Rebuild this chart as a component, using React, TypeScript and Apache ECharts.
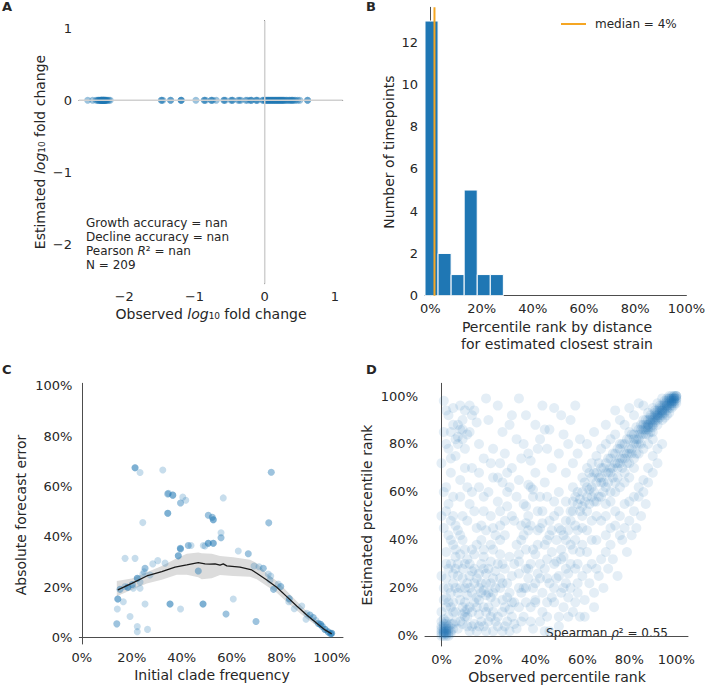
import React, { useEffect, useRef } from 'react';
import * as echarts from 'echarts';

const FONT = 'DejaVu Sans';
const TEXT = '#262626';
const AXIS = '#4d4d4d';
const BLUE = '#1f77b4';
const ORANGE = '#f5a623';

// ---------- Panel A ----------
const A_OBSERVED = [
  -2.52, -2.45, -2.40, -2.38, -2.37, -2.35, -2.34, -2.33, -2.33, -2.32, -2.31, -2.30, -2.30, -2.29, -2.28,
  -2.28, -2.27, -2.26, -2.25, -2.24, -2.22, -2.20, -2.36, -2.33, -2.31, -2.29, -2.27, -2.32, -2.30,
  -1.47, -1.47, -1.45, -1.34, -1.34, -1.19, -1.19, -1.19,
  -0.98, -0.86, -0.86, -0.84, -0.76, -0.76, -0.74, -0.69, -0.58, -0.58, -0.56, -0.48, -0.46, -0.46, -0.38,
  -0.36, -0.34, -0.27, -0.25, -0.21, -0.19, -0.19, -0.12, -0.12, -0.10,
  -0.03, -0.02, 0.0, 0.01, 0.02, 0.03, 0.04, 0.05, 0.06, 0.07, 0.08, 0.09, 0.10, 0.11, 0.12, 0.13, 0.14,
  0.15, 0.16, 0.17, 0.18, 0.19, 0.20, 0.21, 0.22, 0.23, 0.24, 0.25, 0.26, 0.27, 0.28, 0.30, 0.31, 0.33,
  0.35, 0.36, 0.38, 0.39, 0.40, 0.42, 0.44, 0.47, 0.50, 0.61, 0.61,
];
const A_ESTIMATED_VALUE = 0;
const A_TICKS = [-2, -1, 0, 1];
const A_STATS = ['Growth accuracy = nan', 'Decline accuracy = nan', 'Pearson {i|R}² = nan', 'N = 209'];

// ---------- Panel B ----------
const B_BIN_EDGES = [-2.1, 3.0, 8.1, 13.2, 18.3, 23.4, 28.5];
const B_COUNTS = [13, 2, 1, 5, 1, 1];
const B_MEDIAN = 1.6;
const B_MEDIAN_LABEL = 'median = 4%';
const B_X_TICKS = [0, 20, 40, 60, 80, 100];
const B_Y_TICKS = [0, 2, 4, 6, 8, 10, 12];

// ---------- Panel C ----------
const C_POINTS = [
  [21.3, 67.5], [21.3, 67.5], [21.3, 67.5], [23.3, 65.6], [32.4, 66.6],
  [34.4, 57.1], [34.4, 57.1], [36.4, 56.6], [36.4, 56.6], [36.4, 56.6], [34.7, 57.3],
  [40.4, 55.8], [41.6, 54.6], [39.5, 53.5], [39.5, 53.5], [34.4, 49.4], [34.4, 49.4], [34.4, 49.4],
  [24.4, 45.7], [56.6, 55.5], [50.6, 48.6], [50.6, 48.6], [52.2, 47.8], [52.2, 47.8],
  [52.6, 46.8], [52.6, 46.8], [52.6, 46.8], [75.8, 65.7], [75.8, 65.7], [74.8, 45.6], [74.8, 45.6],
  [55.7, 41.7], [55.7, 39.7], [55.7, 39.7], [48.6, 36.6], [50.6, 37.5], [50.6, 37.5], [50.6, 37.5],
  [52.6, 37.5], [52.6, 37.5], [52.6, 37.5], [42.6, 36.6], [42.6, 36.6], [43.7, 36.6], [39.5, 35.2],
  [39.5, 35.2], [38.6, 32.5], [38.6, 32.5], [38.6, 32.5], [62.6, 34.4], [66.6, 33.3], [66.6, 33.3],
  [17.3, 31.5], [21.3, 31.5], [30.4, 30.6], [28.4, 29.3], [33.3, 29.6], [25.3, 27.6], [25.3, 27.6],
  [27.3, 24.9], [24.4, 25.2], [46.6, 26.5], [46.6, 26.5], [68.9, 28.5], [70.9, 28.2], [72.6, 27.6],
  [72.6, 27.6], [74.6, 25.3], [75.6, 24.5], [75.3, 22.9], [78.6, 21.3], [79.6, 20.3], [79.6, 20.3],
  [76.7, 19.2], [76.7, 19.2], [83.0, 15.5], [83.0, 15.5], [82.8, 14.3], [85.0, 11.5], [88.0, 12.6],
  [90.0, 9.7], [89.7, 7.3], [91.3, 9.0], [91.3, 9.0], [92.6, 8.0], [92.6, 8.0], [93.7, 6.8],
  [94.6, 5.7], [94.6, 5.7], [95.5, 5.3], [95.5, 5.3], [95.5, 5.3], [96.2, 4.5], [96.2, 4.5],
  [97.3, 3.3], [97.3, 3.3], [97.3, 3.3], [98.6, 2.3], [98.6, 2.3], [98.6, 2.3], [99.6, 1.6],
  [99.6, 1.6], [99.6, 1.6], [100, 1.8], [100, 1.8], [100, 1.8],
  [69.7, 6.4], [69.7, 6.4], [60.6, 15.4], [57.7, 9.4], [57.7, 9.4], [48.5, 13.4], [48.5, 13.4],
  [48.5, 13.4], [35.3, 13.4], [35.3, 13.4], [35.3, 13.4], [39.5, 11.4],
  [14.4, 15.4], [14.4, 15.4], [14.4, 15.4], [16.6, 14.3], [14.2, 11.4], [14.0, 5.5], [14.0, 5.5],
  [19.3, 8.4], [22.2, 4.4], [22.2, 2.4], [26.3, 3.3], [25.3, 13.4],
  [17.3, 20.3], [15.3, 19.2], [15.3, 19.2], [18.4, 20.0], [18.4, 20.0], [18.4, 20.0], [20.2, 21.1],
  [20.2, 21.1], [22.2, 23.6], [22.2, 23.6], [22.2, 23.6], [23.3, 22.1], [20.6, 19.6], [23.3, 19.6],
  [39.4, 35.5], [39.4, 35.5], [49.3, 36.4], [24.9, 26.2],
];
const C_LINE_X = [14.4, 20.0, 26.0, 32.0, 37.3, 42.0, 46.6, 49.3, 51.3, 53.3, 55.3, 56.6, 58.0, 63.3, 68.0, 70.0, 74.0, 78.0, 82.0, 86.0, 90.0, 94.0, 97.3, 100.0];
const C_LINE_Y = [19.0, 21.6, 24.5, 26.2, 28.0, 28.9, 29.8, 29.3, 29.2, 29.3, 28.8, 29.3, 28.5, 28.0, 26.9, 25.6, 22.9, 20.0, 16.3, 12.6, 9.0, 5.7, 3.1, 1.5];
const C_BAND_X = [14, 20, 26, 32, 38, 42, 46.6, 48, 52, 55.3, 60.6, 67.3, 70, 74, 78, 82, 86, 90, 94, 97.3, 100];
const C_BAND_HIGH = [22.5, 23.5, 26.0, 28.5, 31.5, 33.3, 33.8, 33.5, 33.3, 32.4, 31.9, 30.9, 29.6, 25.5, 22.5, 18.5, 14.5, 10.5, 6.8, 4.0, 2.2];
const C_BAND_LOW = [16.5, 19.0, 21.5, 23.0, 25.0, 25.0, 24.0, 23.2, 23.6, 24.9, 24.5, 24.2, 23.2, 20.5, 17.8, 14.2, 10.8, 7.5, 4.7, 2.2, 0.8];
const PCT_TICKS = [0, 20, 40, 60, 80, 100];

// ---------- Panel D (observed %, estimated %) ----------
const D_CORNER = [
  [1, 1], [2, 2], [1, 3], [3, 1], [2, 4], [0, 2], [4, 2], [1, 0], [3, 3], [2, 1], [0, 4], [5, 3], [2, 6], [4, 5], [1, 7],
  [1, 2], [2, 3], [0, 1], [3, 2], [2, 0], [1, 1], [2, 2], [0, 0], [1, 2], [2, 1], [3, 4], [0, 3], [1, 4], [2, 5],
  [4, 1], [3, 0], [0, 6], [5, 5], [1, 5],
];
const D_LOWER_LEFT = [
  [6, 10], [9, 12], [11, 8], [8, 15], [12, 20], [4, 18], [7, 25], [3, 28], [10, 30], [14, 14], [16, 9], [18, 4],
  [20, 12], [22, 18], [17, 22], [13, 27], [6, 33], [2, 12], [5, 22], [9, 5], [15, 2], [19, 17], [24, 8], [26, 15],
  [28, 22], [23, 27], [21, 31], [27, 4], [29, 11], [11, 17], [8, 20], [13, 10], [16, 26], [25, 20], [19, 26], [3, 8],
  [7, 3], [12, 2], [20, 6], [26, 30], [29, 33], [10, 36], [4, 40], [8, 42], [15, 38], [18, 33],
  [10, 10], [11, 11], [9, 9], [12, 12], [17, 18], [18, 19], [16, 15], [21, 22], [5, 14], [14, 5], [22, 10], [6, 28],
  [1, 15], [3, 20], [5, 26], [7, 30], [9, 24], [11, 22], [13, 18], [15, 12], [17, 6], [19, 2], [21, 8], [23, 14],
  [25, 24], [27, 28], [29, 18], [2, 24], [4, 30], [6, 36], [8, 6], [10, 14], [12, 30], [14, 34], [16, 20], [18, 12],
  [20, 28], [22, 36], [24, 4], [26, 10], [28, 6], [30, 25], [3, 14], [5, 10], [7, 18], [9, 28], [11, 32], [13, 4],
  [15, 24], [17, 30], [19, 10], [21, 16], [23, 20], [25, 34], [27, 12], [29, 2], [1, 20], [4, 12], [6, 6], [8, 34],
  [10, 20], [12, 25], [14, 22], [16, 4], [18, 28], [20, 18], [22, 2], [24, 30], [26, 22], [28, 16], [30, 8], [2, 30],
  [5, 38], [9, 40], [13, 36], [17, 40], [21, 38], [25, 40], [11, 4], [15, 16], [19, 22], [23, 6], [0, 10], [0, 25],
  [2, 16], [6, 20], [10, 8], [14, 28], [18, 36], [22, 24], [26, 2], [30, 14],
];
const D_MIDDLE = [
  [32, 3], [35, 8], [38, 12], [34, 18], [40, 22], [42, 6], [45, 14], [48, 20], [44, 28], [50, 25], [52, 33], [55, 30],
  [47, 35], [38, 30], [33, 26], [36, 36], [41, 38], [54, 16], [56, 10], [50, 8], [46, 2], [31, 14], [58, 22], [59, 35],
  [53, 40], [43, 18], [39, 3], [57, 28], [49, 31], [37, 24], [33, 31], [45, 24], [51, 36], [40, 15], [36, 20], [53, 22],
  [22, 45], [25, 52], [28, 60], [31, 48], [35, 55], [38, 62], [42, 45], [45, 58], [48, 50], [52, 42], [55, 48], [58, 55],
  [33, 65], [40, 68], [27, 42], [37, 44], [44, 64], [50, 60], [56, 62], [30, 70], [24, 66], [46, 42], [53, 56], [41, 52],
  [34, 40], [39, 61], [37, 63], [36, 47], [43, 47], [50, 45],
  [31, 5], [33, 12], [35, 20], [37, 28], [39, 36], [41, 44], [43, 52], [45, 8], [47, 16], [49, 24], [51, 32], [53, 48],
  [55, 20], [57, 14], [59, 8], [32, 38], [34, 46], [36, 54], [38, 6], [40, 14], [42, 30], [44, 38], [46, 48], [48, 56],
  [50, 4], [52, 12], [54, 26], [56, 36], [58, 44], [31, 30], [33, 20], [35, 42], [37, 50], [39, 58], [41, 26], [43, 10],
  [45, 32], [47, 44], [49, 40], [51, 18], [53, 28], [55, 38], [57, 46], [59, 52], [30, 50], [32, 58], [34, 6], [36, 14],
  [38, 46], [40, 34], [42, 58], [44, 2], [46, 22], [48, 30], [50, 52], [52, 20], [54, 44], [56, 52], [58, 30], [33, 34],
  [36, 28], [39, 20], [42, 24], [45, 40], [48, 14], [51, 44], [54, 8], [57, 40],
  [3, 42], [6, 46], [9, 50], [12, 55], [15, 45], [18, 58], [21, 50], [24, 56], [27, 48], [29, 62], [2, 52], [5, 58],
  [8, 65], [11, 62], [14, 52], [17, 46], [20, 60], [23, 42], [26, 64], [28, 54], [1, 60], [4, 48], [7, 44], [10, 70],
  [13, 60], [16, 68], [19, 44], [22, 66], [25, 46], [28, 68],
];
const D_UPPER_LEFT = [
  [1, 45], [3, 55], [2, 62], [5, 50], [8, 58], [4, 68], [6, 75], [2, 80], [9, 82], [12, 85], [7, 88], [3, 92], [5, 95],
  [1, 98], [14, 94], [10, 78], [13, 70], [16, 62], [18, 52], [11, 48], [0, 72], [4, 85], [8, 96], [15, 89], [19, 99],
  [2, 35], [0, 50], [7, 83], [9, 86], [12, 96],
  [1, 85], [3, 78], [5, 88], [7, 80], [9, 90], [11, 84], [13, 92], [2, 94], [4, 74], [6, 82], [8, 86], [10, 94],
  [16, 80], [18, 74], [20, 90],
  [22, 78], [26, 85], [30, 92], [35, 80], [40, 88], [45, 78], [48, 95], [52, 84], [55, 90], [58, 76], [24, 96], [38, 73],
  [43, 96], [33, 99], [21, 72], [27, 76], [32, 82], [37, 76], [42, 82], [47, 70], [50, 76], [53, 68], [56, 72], [59, 82],
  [29, 88], [36, 92], [44, 86], [51, 92], [57, 96], [25, 72], [34, 74], [41, 78], [46, 86], [54, 80],
];
const D_DIAGONAL = [
  [55, 52], [57, 58], [60, 60], [60, 50], [62, 62], [63, 55], [64, 66], [65, 60], [66, 68], [67, 58], [68, 70], [69, 64],
  [70, 72], [70, 62], [71, 68], [72, 74], [72, 60], [73, 70], [74, 76], [75, 66], [75, 72], [76, 78], [77, 70], [78, 80],
  [78, 74], [79, 76], [80, 82], [80, 72], [81, 78], [82, 84], [82, 80], [83, 76], [84, 86], [84, 82], [85, 80], [85, 88],
  [62, 70], [66, 75], [70, 80], [74, 84], [78, 88], [66, 50], [70, 55], [74, 60], [78, 64], [82, 70], [60, 66], [64, 72],
  [68, 78], [72, 82], [76, 80], [80, 85], [83, 87],
  [56, 56], [58, 60], [59, 57], [61, 64], [62, 58], [63, 61], [64, 62], [65, 68], [66, 64], [67, 66], [68, 64], [69, 70],
  [70, 68], [71, 74], [72, 70], [73, 76], [74, 72], [75, 78], [76, 74], [77, 80], [78, 76], [79, 82], [80, 78], [81, 84],
  [82, 82], [83, 82], [84, 84], [85, 86], [86, 84], [87, 86], [88, 88], [89, 91], [61, 56], [63, 68], [65, 56], [67, 72],
  [69, 60], [71, 64], [73, 66], [75, 70], [77, 74], [79, 72], [81, 76], [83, 80], [85, 84], [87, 90], [89, 85], [64, 58],
  [68, 66], [72, 68], [76, 72], [80, 76], [84, 80], [88, 86], [60, 54], [62, 52], [64, 48], [66, 56], [68, 58], [70, 50],
  [72, 56], [74, 64], [76, 62], [78, 68], [80, 66], [82, 74], [84, 76], [86, 78], [88, 80], [90, 82],
  [76, 90], [80, 95], [84, 97], [70, 88], [74, 94], [82, 92], [86, 96], [65, 85], [62, 80],
];
const D_BELOW_DIAGONAL = [
  [60, 38], [62, 44], [64, 30], [66, 40], [68, 48], [70, 35], [72, 45], [74, 52], [76, 42], [78, 55], [80, 48], [82, 58],
  [84, 62], [86, 65], [88, 70], [90, 75], [92, 78], [63, 22], [67, 25], [71, 28], [75, 25], [79, 35], [83, 45], [87, 55],
  [65, 18], [61, 15], [60, 45], [62, 35], [64, 40], [66, 28], [68, 32], [70, 42], [72, 38], [74, 46], [76, 50], [78, 45],
  [80, 56], [82, 52], [84, 58], [86, 60], [88, 64], [90, 68], [92, 72], [94, 80], [60, 25], [62, 28], [58, 18], [61, 8],
  [65, 12], [69, 20], [73, 32], [77, 40], [81, 42], [85, 50],
];
const D_TOP_RIGHT = [
  [86, 86], [87, 88], [88, 87], [88, 90], [89, 89], [90, 88], [90, 91], [91, 90], [91, 93], [92, 91], [92, 94], [93, 92],
  [93, 95], [94, 93], [94, 96], [95, 94], [95, 97], [96, 95], [96, 98], [97, 96], [97, 99], [98, 97], [98, 99], [99, 98],
  [99, 100], [100, 99], [100, 100], [99, 99], [98, 98], [97, 97], [96, 96], [95, 95], [94, 94], [93, 93], [92, 92],
  [91, 91], [90, 90], [89, 87], [87, 84], [88, 84], [90, 85], [92, 88], [94, 90], [96, 92], [98, 95], [86, 90], [88, 93],
  [90, 95], [92, 97], [94, 99], [100, 98], [99, 97], [98, 100], [97, 100], [96, 99], [100, 100], [99, 99], [98, 99],
  [91, 92], [92, 93], [93, 94], [94, 95], [95, 96], [96, 97], [97, 98], [98, 98], [99, 100], [100, 99], [99, 98], [98, 96],
  [97, 95], [96, 94], [95, 93], [94, 92], [93, 91], [92, 90], [91, 89], [90, 87], [95, 98], [97, 99], [99, 99], [100, 100],
  [98, 97], [96, 96], [94, 94], [92, 92], [90, 89], [88, 88], [93, 96], [91, 94], [89, 92], [95, 91], [97, 93], [99, 96],
  [100, 97], [86, 88], [87, 87], [89, 90],
];
const D_POINTS = [...D_CORNER, ...D_LOWER_LEFT, ...D_MIDDLE, ...D_UPPER_LEFT, ...D_DIAGONAL, ...D_BELOW_DIAGONAL, ...D_TOP_RIGHT];
const D_STAT = 'Spearman {i|ρ}² = 0.55';

const pctFmt = (ticks: number[]) => (v: number) => {
  const t = ticks.find((k) => Math.abs(k - v) < 1e-6);
  return t === undefined ? '' : `${t}%`;
};
const numFmt = (ticks: number[]) => (v: number) => {
  const t = ticks.find((k) => Math.abs(k - v) < 1e-6);
  if (t === undefined) return '';
  return t < 0 ? `\u2212${Math.abs(t)}` : `${t}`;
};

const axisCommon = {
  axisLine: { show: true, lineStyle: { color: AXIS, width: 1 } },
  axisTick: { show: false },
  splitLine: { show: false },
};
const labelStyle = (margin: number, formatter: any) => ({
  color: TEXT,
  fontFamily: FONT,
  fontSize: 13,
  margin,
  formatter,
  showMinLabel: true,
  showMaxLabel: true,
});

function txt(x: number, y: number, text: string, opts: any = {}) {
  return {
    type: 'text',
    x,
    y,
    rotation: opts.rotation || 0,
    silent: true,
    style: {
      text,
      fill: TEXT,
      font: `${opts.weight || 'normal'} ${opts.size || 14}px "${FONT}"`,
      align: opts.align || 'center',
      verticalAlign: 'middle',
      textAlign: opts.align || 'center',
      textVerticalAlign: 'middle',
      rich: {
        i: { fontStyle: 'italic', fontSize: opts.size || 14, fontFamily: FONT, fill: TEXT, color: TEXT },
      },
    },
  };
}

export default function App() {
  const ref = useRef<HTMLDivElement>(null);
  useEffect(() => {
    if (!ref.current) return;
    const chart = echarts.init(ref.current, undefined, { renderer: 'svg' });

    const A_X_MIN = -2.644, A_X_MAX = 1.11, A_Y_MIN = -2.55, A_Y_MAX = 1.105;
    const B_X_MIN = -2.1, B_X_MAX = 100, B_Y_MAX = 13.65;

    const option: any = {
      animation: false,
      textStyle: { fontFamily: FONT },
      grid: [
        { left: 79, top: 20.7, width: 263.7, height: 263 },
        { left: 425, top: 7.3, width: 263.3, height: 288.4 },
        { left: 79.3, top: 383.3, width: 263.7, height: 260.7 },
        { left: 425, top: 383.3, width: 263, height: 262.7 },
      ],
      xAxis: [
        { type: 'value', gridIndex: 0, min: A_X_MIN, max: A_X_MAX, ...axisCommon, axisLabel: labelStyle(6, numFmt(A_TICKS)) },
        { type: 'value', gridIndex: 1, min: B_X_MIN, max: B_X_MAX, ...axisCommon, axisLabel: labelStyle(6, pctFmt(B_X_TICKS)) },
        { type: 'value', gridIndex: 2, min: -1, max: 104.5, ...axisCommon, axisLabel: labelStyle(7, pctFmt(PCT_TICKS)) },
        { type: 'value', gridIndex: 3, min: -7, max: 105, ...axisCommon, axisLabel: labelStyle(7, pctFmt(PCT_TICKS)) },
      ],
      yAxis: [
        { type: 'value', gridIndex: 0, min: A_Y_MIN, max: A_Y_MAX, ...axisCommon, axisLabel: labelStyle(7, numFmt(A_TICKS)) },
        { type: 'value', gridIndex: 1, min: 0, max: B_Y_MAX, interval: 2, ...axisCommon, axisLabel: labelStyle(7, numFmt(B_Y_TICKS)) },
        { type: 'value', gridIndex: 2, min: -2.5, max: 101, ...axisCommon, axisLabel: labelStyle(7, pctFmt(PCT_TICKS)) },
        { type: 'value', gridIndex: 3, min: -4.2, max: 105.3, ...axisCommon, axisLabel: labelStyle(7, pctFmt(PCT_TICKS)) },
      ],
      series: [
        {
          type: 'line', xAxisIndex: 0, yAxisIndex: 0, silent: true, showSymbol: false, symbol: 'none',
          data: [[0, A_Y_MIN], [0, A_Y_MAX]], lineStyle: { color: '#d0d0d0', width: 1.5 },
        },
        {
          type: 'line', xAxisIndex: 0, yAxisIndex: 0, silent: true, showSymbol: false, symbol: 'none',
          data: [[A_X_MIN, 0], [A_X_MAX, 0]], lineStyle: { color: '#d0d0d0', width: 1.5 },
        },
        {
          type: 'scatter', xAxisIndex: 0, yAxisIndex: 0, symbolSize: 7,
          data: A_OBSERVED.map((x) => [x, A_ESTIMATED_VALUE]),
          itemStyle: { color: BLUE, opacity: 0.45 },
        },
        {
          type: 'custom', xAxisIndex: 1, yAxisIndex: 1,
          data: B_COUNTS.map((c, i) => [B_BIN_EDGES[i], B_BIN_EDGES[i + 1], c]),
          encode: { x: [0, 1], y: 2 },
          renderItem: (params: any, api: any) => {
            const p0 = api.coord([api.value(0), api.value(2)]);
            const p1 = api.coord([api.value(1), 0]);
            return {
              type: 'rect',
              shape: { x: p0[0], y: p0[1], width: p1[0] - p0[0], height: p1[1] - p0[1] },
              style: { fill: BLUE, stroke: '#ffffff', lineWidth: 1 },
            };
          },
        },
        {
          type: 'line', xAxisIndex: 1, yAxisIndex: 1, silent: true, showSymbol: false, symbol: 'none',
          data: [[B_MEDIAN, 0], [B_MEDIAN, B_Y_MAX]], lineStyle: { color: ORANGE, width: 2 }, z: 5,
        },
        {
          type: 'custom', xAxisIndex: 2, yAxisIndex: 2, silent: true,
          data: C_BAND_X.map((x, i) => [x, C_BAND_LOW[i], C_BAND_HIGH[i]]),
          encode: { x: 0, y: [1, 2] },
          renderItem: (params: any, api: any) => {
            if (params.dataIndex !== 0) return { type: 'group', children: [] };
            const upper = C_BAND_X.map((x, i) => api.coord([x, C_BAND_HIGH[i]]));
            const lower = C_BAND_X.map((x, i) => api.coord([x, C_BAND_LOW[i]])).reverse();
            return { type: 'polygon', shape: { points: upper.concat(lower) }, style: { fill: '#dcdcdc' } };
          },
          z: 1,
        },
        {
          type: 'scatter', xAxisIndex: 2, yAxisIndex: 2, symbolSize: 7, z: 2,
          data: C_POINTS, itemStyle: { color: BLUE, opacity: 0.25 },
        },
        {
          type: 'line', xAxisIndex: 2, yAxisIndex: 2, showSymbol: false, symbol: 'none', z: 3,
          data: C_LINE_X.map((x, i) => [x, C_LINE_Y[i]]), lineStyle: { color: '#1a1a1a', width: 1.3 },
        },
        {
          type: 'scatter', xAxisIndex: 3, yAxisIndex: 3, symbolSize: 10, large: false,
          data: D_POINTS, itemStyle: { color: BLUE, opacity: 0.12 },
        },
      ],
      graphic: [
        txt(2, 6, 'A', { align: 'left', weight: 'bold', size: 13 }),
        txt(366, 6, 'B', { align: 'left', weight: 'bold', size: 13 }),
        txt(2, 369, 'C', { align: 'left', weight: 'bold', size: 13 }),
        txt(366, 369, 'D', { align: 'left', weight: 'bold', size: 13 }),
        txt(211, 314, 'Observed {i|log}₁₀ fold change'),
        txt(40, 152, 'Estimated {i|log}₁₀ fold change', { rotation: Math.PI / 2 }),
        ...A_STATS.map((s, i) => txt(86, 222.5 + i * 14, s, { align: 'left', size: 12 })),
        txt(557, 327, 'Percentile rank by distance'),
        txt(557, 343.5, 'for estimated closest strain'),
        txt(389, 152, 'Number of timepoints', { rotation: Math.PI / 2 }),
        {
          type: 'line', silent: true,
          shape: { x1: 561, y1: 24, x2: 586, y2: 24 },
          style: { stroke: ORANGE, lineWidth: 2 },
        },
        txt(595, 24, B_MEDIAN_LABEL, { align: 'left', size: 12 }),
        txt(212, 675, 'Initial clade frequency'),
        txt(21, 515, 'Absolute forecast error', { rotation: Math.PI / 2 }),
        txt(557, 677, 'Observed percentile rank'),
        txt(367, 515, 'Estimated percentile rank', { rotation: Math.PI / 2 }),
        txt(668, 633, D_STAT, { align: 'right', size: 12 }),
      ],
    };
    chart.setOption(option);
    return () => chart.dispose();
  }, []);
  return <div ref={ref} style={{ position: 'absolute', left: 0, top: 0, width: 708, height: 685 }} />;
}
